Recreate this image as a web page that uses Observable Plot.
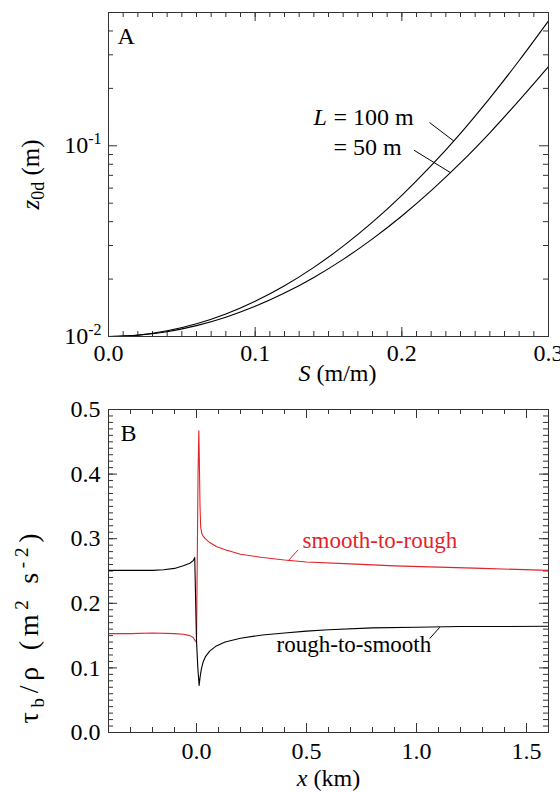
<!DOCTYPE html>
<html><head><meta charset="utf-8">
<script src="https://cdn.jsdelivr.net/npm/d3@7"></script>
<script src="https://cdn.jsdelivr.net/npm/@observablehq/plot@0.6"></script>
<style>
body{margin:0;background:#fff;}
#chart svg{display:block;}
</style></head><body><div id="chart"></div>
<script>
const FONT = "Liberation Serif";

// ---------- Panel A data ----------
const slopeS   = [0, 0.02, 0.04, 0.06, 0.08, 0.10, 0.12, 0.14, 0.16, 0.18, 0.20, 0.22, 0.24, 0.26, 0.28, 0.30];
const z0dL100  = [0.0100, 0.01017, 0.01071, 0.01166, 0.01313, 0.01531, 0.01846, 0.02305, 0.02976, 0.03975, 0.05495, 0.0786, 0.1163, 0.178, 0.280, 0.452];
const z0dL50   = [0.0100, 0.01015, 0.0106, 0.0114, 0.01262, 0.01439, 0.01689, 0.0204, 0.02538, 0.0325, 0.04285, 0.05818, 0.0813, 0.117, 0.173, 0.260];
const seriesA  = ["100 m", "50 m"];
const ticksSA  = [0, 0.1, 0.2, 0.3];
const ticksZA  = [0.01, 0.1];
const tickLabelsZA = ["10-2", "10-1"];

// ---------- Panel B data ----------
const xRS   = [-0.4, -0.3, -0.2, -0.15, -0.1, -0.06, -0.03, -0.015, -0.008, 0.0, 0.006, 0.012, 0.016, 0.022, 0.03, 0.04, 0.06, 0.09, 0.13, 0.2, 0.3, 0.4, 0.5, 0.6, 0.8, 1.0, 1.2, 1.4, 1.6];
const tauRS = [0.251, 0.251, 0.251, 0.252, 0.254, 0.258, 0.262, 0.266, 0.271, 0.142, 0.100, 0.073, 0.085, 0.098, 0.109, 0.117, 0.126, 0.134, 0.140, 0.146, 0.151, 0.154, 0.157, 0.159, 0.162, 0.163, 0.164, 0.164, 0.1645];
const xSR   = [-0.4, -0.3, -0.2, -0.1, -0.06, -0.03, -0.015, -0.006, 0.0, 0.007, 0.0105, 0.013, 0.016, 0.019, 0.024, 0.03, 0.04, 0.06, 0.09, 0.13, 0.2, 0.3, 0.4, 0.5, 0.7, 0.9, 1.1, 1.3, 1.6];
const tauSR = [0.153, 0.153, 0.154, 0.153, 0.152, 0.150, 0.147, 0.142, 0.140, 0.40, 0.467, 0.42, 0.35, 0.318, 0.308, 0.304, 0.300, 0.294, 0.288, 0.283, 0.276, 0.271, 0.267, 0.264, 0.261, 0.258, 0.256, 0.254, 0.251];
const seriesB = ["smooth-to-rough", "rough-to-smooth"];
const ticksXB = [0, 0.5, 1.0, 1.5];
const ticksTauB = [0, 0.1, 0.2, 0.3, 0.4, 0.5];

const RED = "#e3232b";
const AX = "#333";

function frameTicks(xs, ys, len, w, h) {
  return [
    Plot.tickX(xs, {x: d => d, insetTop: h - len, stroke: AX}),
    Plot.tickX(xs, {x: d => d, insetBottom: h - len, stroke: AX}),
    Plot.tickY(ys, {y: d => d, insetRight: w - len, stroke: AX}),
    Plot.tickY(ys, {y: d => d, insetLeft: w - len, stroke: AX})
  ];
}
const T = (extra) => Object.assign({fontFamily: FONT, fontSize: 24, text: d => d, lineAnchor: "bottom"}, extra);

// ---------- Panel A ----------
const dataA = slopeS.flatMap((s, i) => [
  {S: s, z: z0dL100[i], L: seriesA[0]},
  {S: s, z: z0dL50[i], L: seriesA[1]}
]);
const minorSA = d3.range(0, 0.3001, 0.01).map(v => +v.toFixed(2));
const minorZA = [2,3,4,5,6,7,8,9].map(k => k * 0.01).concat([2,3,4,5].map(k => k * 0.1));

const wA = 440, hA = 324;
const plotA = Plot.plot({
  width: 560, height: 390,
  marginLeft: 108, marginRight: 12, marginTop: 12, marginBottom: 54,
  style: {fontFamily: FONT, fontSize: "24px", color: "black", background: "white"},
  x: {domain: [0, 0.3]},
  y: {type: "log", domain: [0.01, 0.5]},
  marks: [
    ...frameTicks(minorSA, minorZA, 5, wA, hA),
    ...frameTicks(ticksSA, ticksZA, 9, wA, hA),
    Plot.line(dataA, {x: "S", y: "z", z: "L", stroke: "black", strokeWidth: 1.1, curve: "catmull-rom"}),
    Plot.frame({stroke: AX}),
    Plot.axisX({ticks: ticksSA, tickSize: 0, tickPadding: 7, tickFormat: d3.format(".1f"), fontSize: 24, fontFamily: FONT, label: null}),
    Plot.axisY({ticks: ticksZA, tickSize: 0, tickPadding: 7, tickFormat: d => tickLabelsZA[ticksZA.indexOf(d)], fontSize: 24, fontFamily: FONT, label: null}),
    Plot.text(["A"], T({frameAnchor: "top-left", dx: 9, dy: 31, textAnchor: "start"})),
    Plot.text(["L"], T({x: 0.1398, y: 0.1289, textAnchor: "start", fontStyle: "italic"})),
    Plot.text(["= " + seriesA[0]], T({x: 0.1534, y: 0.1289, textAnchor: "start"})),
    Plot.text(["= " + seriesA[1]], T({x: 0.1534, y: 0.0897, textAnchor: "start"})),
    Plot.link([0], {x1: 0.2189, y1: 0.1324, x2: 0.2354, y2: 0.106, stroke: "black", strokeWidth: 1}),
    Plot.link([0], {x1: 0.2082, y1: 0.0949, x2: 0.2332, y2: 0.0723, stroke: "black", strokeWidth: 1}),
    Plot.text(["z0d (m)"], T({frameAnchor: "left", dx: -70, rotate: -90, textAnchor: "middle", fontSize: 25})),
    Plot.text(["S (m/m)"], T({frameAnchor: "bottom", dx: 9, dy: 44, textAnchor: "middle"}))
  ]
});

// ---------- Panel B ----------
const dataB = [
  ...xSR.map((x, i) => ({x, tau: tauSR[i], s: seriesB[0]})),
  ...xRS.map((x, i) => ({x, tau: tauRS[i], s: seriesB[1]}))
];
const minorXB = d3.range(-0.4, 1.6001, 0.1).map(v => +v.toFixed(2));
const minorTB = d3.range(0, 0.5001, 0.01).map(v => +v.toFixed(2));
const wB = 440, hB = 323;
const plotB = Plot.plot({
  width: 560, height: 402,
  marginLeft: 108, marginRight: 12, marginTop: 19, marginBottom: 60,
  style: {fontFamily: FONT, fontSize: "24px", color: "black", background: "white"},
  x: {domain: [-0.4, 1.6]},
  y: {domain: [0, 0.5]},
  color: {domain: seriesB, range: [RED, "black"]},
  marks: [
    ...frameTicks(minorXB, minorTB, 5, wB, hB),
    ...frameTicks(ticksXB, ticksTauB, 9, wB, hB),
    Plot.line(dataB, {x: "x", y: "tau", z: "s", stroke: "s", strokeWidth: 1.1, curve: "linear"}),
    Plot.frame({stroke: AX}),
    Plot.axisX({ticks: ticksXB, tickSize: 0, tickPadding: 9, tickFormat: d3.format(".1f"), fontSize: 24, fontFamily: FONT, label: null}),
    Plot.axisY({ticks: ticksTauB, tickSize: 0, tickPadding: 8, tickFormat: d3.format(".1f"), fontSize: 24, fontFamily: FONT, label: null}),
    Plot.text(["B"], T({frameAnchor: "top-left", dx: 12, dy: 31, textAnchor: "start"})),
    Plot.text([seriesB[0]], T({x: 0.482, y: 0.2861, fill: RED, textAnchor: "start", fontSize: 23})),
    Plot.link([0], {x1: 0.462, y1: 0.2827, x2: 0.416, y2: 0.2655, stroke: RED, strokeWidth: 1}),
    Plot.text([seriesB[1]], T({x: 0.364, y: 0.1247, fill: "black", textAnchor: "start", fontSize: 23})),
    Plot.link([0], {x1: 1.060, y1: 0.1454, x2: 1.106, y2: 0.163, stroke: "black", strokeWidth: 1}),
    Plot.text(["τb/ρ (m2 s-2)"], T({frameAnchor: "bottom-left", dx: -71, dy: -9, rotate: -90, textAnchor: "start", fontSize: 28})),
    Plot.text(["x (km)"], T({frameAnchor: "bottom", dy: 53, textAnchor: "middle"}))
  ]
});

// rich text (sub/superscripts) as real SVG text
function rich(svg, plain, parts, textLength) {
  d3.select(svg).selectAll("text").filter(function() { return this.textContent === plain; }).each(function() {
    const el = d3.select(this);
    el.text("");
    let shift = 0;
    for (const p of parts) {
      const ts = el.append("tspan").text(p.t);
      const target = p.shift || 0;
      if (target !== shift) { ts.attr("dy", target - shift); shift = target; }
      if (p.size) ts.attr("font-size", p.size);
      if (p.italic) ts.attr("font-style", "italic");
    }
    if (textLength) el.attr("textLength", textLength).attr("lengthAdjust", "spacing");
  });
}
rich(plotA, "10-2", [{t: "10"}, {t: "-2", shift: -9, size: 16}]);
rich(plotA, "10-1", [{t: "10"}, {t: "-1", shift: -9, size: 16}]);
rich(plotA, "z0d (m)", [{t: "z", italic: true}, {t: "0d", shift: 5, size: 18}, {t: " (m)", shift: 0}]);
rich(plotA, "S (m/m)", [{t: "S", italic: true}, {t: " (m/m)"}]);
rich(plotB, "x (km)", [{t: "x", italic: true}, {t: " (km)"}]);
rich(plotB, "τb/ρ (m2 s-2)", [{t: "τ"}, {t: "b", shift: 6, size: 19}, {t: "/ρ (m", shift: 0}, {t: "2", shift: -10, size: 19}, {t: " s", shift: 0}, {t: "-2", shift: -10, size: 19}, {t: ")", shift: 0}], 190);

for (const svg of [plotA, plotB]) {
  d3.select(svg).attr("font-family", FONT);
}

document.getElementById("chart").append(plotA, plotB);
</script>
</body></html>
